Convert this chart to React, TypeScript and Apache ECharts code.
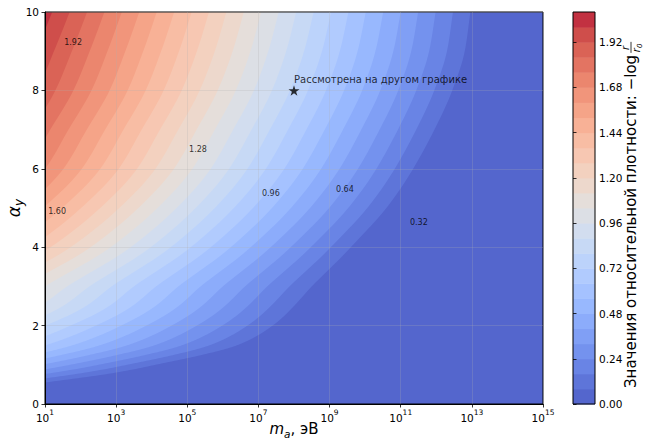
import React, { useEffect, useRef } from "react";
import * as echarts from "echarts";

const FONT = '"DejaVu Sans", sans-serif';

// Columns: log10(m_a / eV)
const logMassCols = [1, 2, 3, 4, 5, 6, 7, 8, 9, 10, 11, 12, 13, 14, 15];
// Rows: alpha_y (below 0.5 the whole plane is in the lowest band)
const alphaRows = [0.5, 0.75, 1, 1.25, 1.5, 2, 2.5, 3, 4, 5, 6, 7, 8, 9, 10];

// -log(r/r0), one array per alpha_y row (columns = logMassCols)
const density_a05 = [0.044, -0.051, -0.146, -0.241, -0.336, -0.431, -0.526, -0.621, -0.716, -0.811, -0.906, -1.001, -1.096, -1.191, -1.286];
const density_a075 = [0.23, 0.139, 0.048, -0.043, -0.134, -0.225, -0.315, -0.406, -0.497, -0.588, -0.679, -0.77, -0.861, -0.952, -1.043];
const density_a1 = [0.39, 0.29, 0.19, 0.09, -0.01, -0.11, -0.21, -0.31, -0.41, -0.51, -0.61, -0.71, -0.81, -0.91, -1.01];
const density_a125 = [0.526, 0.425, 0.323, 0.222, 0.121, 0.02, -0.082, -0.183, -0.284, -0.386, -0.487, -0.588, -0.69, -0.791, -0.892];
const density_a15 = [0.641, 0.537, 0.433, 0.329, 0.225, 0.122, 0.018, -0.086, -0.19, -0.294, -0.398, -0.502, -0.606, -0.71, -0.814];
const density_a2 = [0.801, 0.688, 0.576, 0.463, 0.35, 0.238, 0.125, 0.012, -0.101, -0.213, -0.326, -0.439, -0.551, -0.664, -0.777];
const density_a25 = [0.942, 0.819, 0.696, 0.573, 0.45, 0.327, 0.203, 0.08, -0.043, -0.166, -0.289, -0.412, -0.535, -0.658, -0.781];
const density_a3 = [1.04, 0.912, 0.784, 0.656, 0.528, 0.4, 0.272, 0.144, 0.016, -0.112, -0.24, -0.368, -0.496, -0.624, -0.752];
const density_a4 = [1.302, 1.16, 1.018, 0.876, 0.734, 0.592, 0.449, 0.307, 0.165, 0.023, -0.119, -0.261, -0.403, -0.545, -0.687];
const density_a5 = [1.511, 1.362, 1.213, 1.064, 0.915, 0.766, 0.617, 0.467, 0.318, 0.169, 0.02, -0.129, -0.278, -0.427, -0.576];
const density_a6 = [1.68, 1.525, 1.371, 1.216, 1.062, 0.907, 0.752, 0.598, 0.443, 0.289, 0.134, -0.021, -0.175, -0.33, -0.484];
const density_a7 = [1.783, 1.627, 1.472, 1.316, 1.161, 1.005, 0.85, 0.694, 0.539, 0.383, 0.228, 0.072, -0.083, -0.239, -0.394];
const density_a8 = [1.886, 1.728, 1.571, 1.413, 1.255, 1.097, 0.94, 0.782, 0.624, 0.467, 0.309, 0.151, -0.007, -0.165, -0.322];
const density_a9 = [1.96, 1.801, 1.641, 1.482, 1.323, 1.164, 1.004, 0.845, 0.686, 0.526, 0.367, 0.208, 0.048, -0.111, -0.27];
const density_a10 = [2.033, 1.87, 1.706, 1.543, 1.38, 1.216, 1.053, 0.89, 0.727, 0.563, 0.4, 0.237, 0.073, -0.09, -0.253];

const densityRows = [
  density_a05, density_a075, density_a1, density_a125, density_a15,
  density_a2, density_a25, density_a3, density_a4, density_a5, density_a6,
  density_a7, density_a8, density_a9, density_a10,
];

const contourLevels = [
  0, 0.08, 0.16, 0.24, 0.32, 0.4, 0.48, 0.56, 0.64, 0.72, 0.8, 0.88, 0.96, 1.04,
  1.12, 1.2, 1.28, 1.36, 1.44, 1.52, 1.6, 1.68, 1.76, 1.84, 1.92, 2.0, 2.08,
];
const colorbarTicks = [0, 0.24, 0.48, 0.72, 0.96, 1.2, 1.44, 1.68, 1.92];

const contourLabelText = ["1.92", "1.60", "1.28", "0.96", "0.64", "0.32"];
const contourLabelLogM = [1.79, 1.34, 5.3, 7.35, 9.43, 11.51];
const contourLabelAlpha = [9.21, 4.9, 6.48, 5.36, 5.46, 4.64];

const markedPoint = [8, 8];
const markedText = "Рассмотрена на другом графике";
const markedTextPos = [8, 8.29];

const cbarLabel = "Значения относительной плотности: −log";

// matplotlib "coolwarm" anchor colours (33 evenly spaced)
const coolwarm = [
  [59, 76, 192], [68, 90, 204], [77, 104, 215], [87, 117, 225], [98, 130, 234],
  [108, 142, 241], [119, 154, 247], [130, 165, 251], [141, 176, 254], [152, 185, 255],
  [163, 194, 255], [174, 201, 253], [184, 208, 249], [194, 213, 244], [204, 217, 238],
  [213, 219, 230], [221, 221, 221], [229, 216, 209], [236, 211, 197], [241, 204, 185],
  [245, 196, 173], [247, 187, 160], [247, 177, 148], [247, 166, 135], [244, 154, 123],
  [241, 141, 111], [236, 127, 99], [229, 112, 88], [222, 96, 77], [213, 80, 66],
  [203, 62, 56], [192, 40, 47], [180, 4, 38],
];
const FILL_ALPHA = 0.9;

function cmap(t: number): string {
  const tt = Math.max(0, Math.min(1, t)) * (coolwarm.length - 1);
  const i = Math.min(coolwarm.length - 2, Math.floor(tt));
  const f = tt - i;
  const c = coolwarm[i].map((v, j) => v + (coolwarm[i + 1][j] - v) * f);
  const b = c.map((v) => Math.round(v * FILL_ALPHA + 255 * (1 - FILL_ALPHA)));
  return `rgb(${b[0]},${b[1]},${b[2]})`;
}

const lvMin = contourLevels[0];
const lvMax = contourLevels[contourLevels.length - 1];
const bandColors = contourLevels.slice(0, -1).map((lo, k) => {
  const mid = (lo + contourLevels[k + 1]) / 2;
  return cmap((mid - lvMin) / (lvMax - lvMin));
});

function makePchip(xs: number[], ys: number[]) {
  const n = xs.length;
  const h: number[] = [];
  const d: number[] = [];
  for (let i = 0; i < n - 1; i++) {
    h.push(xs[i + 1] - xs[i]);
    d.push((ys[i + 1] - ys[i]) / h[i]);
  }
  const m = new Array(n).fill(0);
  m[0] = d[0];
  m[n - 1] = d[n - 2];
  for (let i = 1; i < n - 1; i++) {
    if (d[i - 1] === 0 || d[i] === 0 || d[i - 1] * d[i] < 0) m[i] = 0;
    else {
      const w1 = 2 * h[i] + h[i - 1];
      const w2 = h[i] + 2 * h[i - 1];
      m[i] = (w1 + w2) / (w1 / d[i - 1] + w2 / d[i]);
    }
  }
  return (t: number) => {
    let i = 0;
    while (i < n - 2 && t > xs[i + 1]) i++;
    const hh = h[i];
    const s = (t - xs[i]) / hh;
    const s2 = s * s, s3 = s2 * s;
    return (2 * s3 - 3 * s2 + 1) * ys[i] + (s3 - 2 * s2 + s) * hh * m[i] +
      (-2 * s3 + 3 * s2) * ys[i + 1] + (s3 - s2) * hh * m[i + 1];
  };
}

const Y_MIN = 0;
const Y_MAX = 10;
const aFirst = alphaRows[0];
const aLast = alphaRows[alphaRows.length - 1];
const xMin = logMassCols[0];
const xMax = logMassCols[logMassCols.length - 1];
const FINE_N = 600;
const fineAlpha = Array.from({ length: FINE_N + 1 }, (_, i) => aFirst + ((aLast - aFirst) * i) / FINE_N);
const colInterps = logMassCols.map((_, c) => makePchip(alphaRows, densityRows.map((r) => r[c])));
const fineField = fineAlpha.map((a) => colInterps.map((fn) => fn(a)));

function regionAbove(v: number): number[][] {
  if (v <= lvMin) return [[xMin, Y_MIN], [xMax, Y_MIN], [xMax, Y_MAX], [xMin, Y_MAX]];
  const pts: number[][] = [];
  for (let r = 0; r < fineAlpha.length; r++) {
    const row = fineField[r];
    if (row[0] < v) continue;
    if (!pts.length) {
      let aStart = fineAlpha[r];
      if (r > 0) {
        const p = fineField[r - 1][0];
        aStart = fineAlpha[r - 1] + ((v - p) / (row[0] - p)) * (fineAlpha[r] - fineAlpha[r - 1]);
      }
      pts.push([xMin, aStart]);
    }
    let x = xMax;
    for (let c = 0; c < row.length - 1; c++) {
      if (row[c + 1] < v) {
        x = logMassCols[c] + ((row[c] - v) / (row[c] - row[c + 1])) * (logMassCols[c + 1] - logMassCols[c]);
        break;
      }
    }
    pts.push([x, fineAlpha[r]]);
  }
  if (!pts.length) return [];
  pts.push([xMin, Y_MAX]);
  return pts;
}

const regions = contourLevels.slice(0, -1).map((v) => regionAbove(v));

const STAR = "path://M0,-1L0.2245,-0.309L0.9511,-0.309L0.3633,0.118L0.5878,0.809L0,0.382L-0.5878,0.809L-0.3633,0.118L-0.9511,-0.309L-0.2245,-0.309Z";

function measure(text: string, font: string): number {
  const ctx = document.createElement("canvas").getContext("2d");
  if (!ctx) return text.length * 8;
  ctx.font = font;
  return ctx.measureText(text).width;
}

export default function App() {
  const ref = useRef<HTMLDivElement>(null);
  useEffect(() => {
    document.body.style.margin = "0";
    if (!ref.current) return;
    const chart = echarts.init(ref.current, undefined, { renderer: "svg" });
    const cbFont = `15px ${FONT}`;
    const w = measure(cbarLabel, cbFont);
    const axisText = { color: "#000", fontFamily: FONT, fontSize: 10.5 };
    const option: any = {
      animation: false,
      backgroundColor: "#fff",
      textStyle: { fontFamily: FONT },
      grid: [
        { left: 45, top: 12, width: 498, height: 392, show: true, borderColor: "#000", borderWidth: 1, backgroundColor: "transparent", containLabel: false, outerBoundsMode: "none" },
        { left: 573, top: 12, width: 22, height: 392, show: true, borderColor: "#000", borderWidth: 1, backgroundColor: "transparent", containLabel: false, outerBoundsMode: "none" },
      ],
      xAxis: [
        {
          gridIndex: 0, type: "value", min: xMin, max: xMax, interval: 2,
          axisLine: { show: true, onZero: false, lineStyle: { color: "#000", width: 1 } },
          axisTick: { show: true, length: 3.5, lineStyle: { color: "#000", width: 0.8 } },
          axisLabel: {
            margin: 4, showMinLabel: true, showMaxLabel: true,
            formatter: (v: number) => `{b|10}{s|${v}}`,
            rich: {
              b: { ...axisText, lineHeight: 15, verticalAlign: "bottom" },
              s: { ...axisText, fontSize: 7.5, verticalAlign: "top" },
            },
          },
          splitLine: { show: true, lineStyle: { color: "rgba(176,176,176,0.3)", width: 0.8 } },
          name: "{m|m}{sub|a}{t|, эВ}",
          nameLocation: "middle",
          nameMoveOverlap: false,
          nameGap: 17,
          nameTextStyle: {
            verticalAlign: "top",
            rich: {
              m: { color: "#000", fontFamily: FONT, fontSize: 15, fontStyle: "italic", lineHeight: 18, verticalAlign: "top" },
              sub: { color: "#000", fontFamily: FONT, fontSize: 10.5, fontStyle: "italic", verticalAlign: "bottom" },
              t: { color: "#000", fontFamily: FONT, fontSize: 15, lineHeight: 18, verticalAlign: "top" },
            },
          },
        },
        { gridIndex: 1, type: "value", min: 0, max: 1, show: false },
      ],
      yAxis: [
        {
          gridIndex: 0, type: "value", min: Y_MIN, max: Y_MAX, interval: 2,
          axisLine: { show: true, onZero: false, lineStyle: { color: "#000", width: 1 } },
          axisTick: { show: true, length: 3.5, lineStyle: { color: "#000", width: 0.8 } },
          axisLabel: { ...axisText, margin: 6 },
          splitLine: { show: true, lineStyle: { color: "rgba(176,176,176,0.3)", width: 0.8 } },
          name: "{a|α}{s|y}",
          nameLocation: "middle",
          nameRotate: 90,
          nameMoveOverlap: false,
          nameGap: 20,
          nameTextStyle: {
            rich: {
              a: { color: "#000", fontFamily: FONT, fontSize: 17, fontStyle: "italic", lineHeight: 20, verticalAlign: "top" },
              s: { color: "#000", fontFamily: FONT, fontSize: 12, fontStyle: "italic", verticalAlign: "bottom" },
            },
          },
        },
        {
          gridIndex: 1, type: "value", min: lvMin, max: lvMax, interval: 0.24, position: "right",
          axisLine: { show: false },
          axisTick: { show: true, length: 3.5, customValues: colorbarTicks, lineStyle: { color: "#000", width: 0.8 } },
          axisLabel: {
            ...axisText, margin: 4, customValues: colorbarTicks,
            formatter: (v: number) => (v > 2.0 ? "" : v.toFixed(2)),
          },
          splitLine: { show: false },
        },
      ],
      series: [
        {
          type: "custom",
          xAxisIndex: 0, yAxisIndex: 0,
          z: -1, clip: true, silent: true,
          data: regions.map((_, k) => [k]),
          renderItem: (_p: any, api: any) => {
            const k = api.value(0);
            const poly = regions[k];
            if (!poly || !poly.length) return null;
            return {
              type: "polygon",
              shape: { points: poly.map((p) => api.coord(p)) },
              style: { fill: bandColors[k] },
            };
          },
        },
        {
          type: "custom",
          xAxisIndex: 1, yAxisIndex: 1,
          z: -1, silent: true,
          data: bandColors.map((_, k) => [k]),
          renderItem: (_p: any, api: any) => {
            const k = api.value(0);
            const p0 = api.coord([0, contourLevels[k]]);
            const p1 = api.coord([1, contourLevels[k + 1]]);
            return {
              type: "rect",
              shape: { x: p0[0], y: p1[1], width: p1[0] - p0[0], height: p0[1] - p1[1] + 0.5 },
              style: { fill: bandColors[k] },
            };
          },
        },
        {
          type: "scatter", xAxisIndex: 0, yAxisIndex: 0, silent: true, z: 5,
          symbol: STAR, symbolSize: [11, 10.5],
          itemStyle: { color: "#000" },
          data: [markedPoint],
        },
        {
          type: "scatter", xAxisIndex: 0, yAxisIndex: 0, silent: true, z: 5,
          symbolSize: 0,
          data: [{ value: markedTextPos, name: markedText }],
          label: { show: true, position: "right", distance: 0, formatter: "{b}", color: "#000", fontFamily: FONT, fontSize: 10 },
        },
        {
          type: "scatter", xAxisIndex: 0, yAxisIndex: 0, silent: true, z: 5,
          symbolSize: 0,
          data: contourLabelText.map((t, i) => ({ value: [contourLabelLogM[i], contourLabelAlpha[i]], name: t })),
          label: { show: true, position: "inside", formatter: "{b}", color: "#000", fontFamily: FONT, fontSize: 8 },
        },
      ],
      graphic: [
        {
          type: "group", x: 631, y: 388, rotation: Math.PI / 2, silent: true,
          children: [
            { type: "text", x: 0, y: 0, style: { text: cbarLabel, font: cbFont, fill: "#000", align: "left", verticalAlign: "middle" } },
            { type: "text", x: w + 7, y: -5.5, style: { text: "r", font: `italic 10px ${FONT}`, fill: "#000", align: "center", verticalAlign: "middle" } },
            { type: "line", shape: { x1: w + 2, y1: 0, x2: w + 13, y2: 0 }, style: { stroke: "#000", lineWidth: 0.8 } },
            {
              type: "text", x: w + 7, y: 6,
              style: {
                text: "{i|r}{z|0}", align: "center", verticalAlign: "middle", fill: "#000",
                rich: {
                  i: { fontFamily: FONT, fontSize: 10, fontStyle: "italic", lineHeight: 12, verticalAlign: "top" },
                  z: { fontFamily: FONT, fontSize: 7, fontStyle: "italic", verticalAlign: "bottom" },
                },
              },
            },
          ],
        },
      ],
    };
    chart.setOption(option);
    return () => chart.dispose();
  }, []);
  return <div ref={ref} style={{ width: 647, height: 439 }} />;
}
